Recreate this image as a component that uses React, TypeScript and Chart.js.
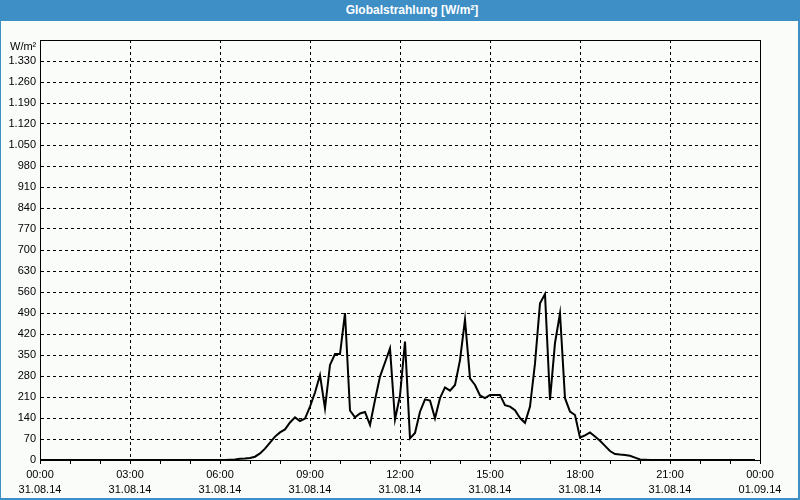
import React, { useEffect, useRef } from 'react';
import { Chart, registerables } from 'chart.js';

Chart.register(...registerables);

const TITLE = 'Globalstrahlung [W/m²]';
const Y_UNIT = 'W/m²';
const DAY_LABEL = '31.08.14';
const NEXT_DAY_LABEL = '01.09.14';
const STEP_MINUTES = 10;

// W/m² every 10 minutes
const values00to06 = [
  0, 0, 0, 0, 0, 0, 0, 0, 0, 0, 0, 0,
  0, 0, 0, 0, 0, 0, 0, 0, 0, 0, 0, 0,
  0, 0, 0, 0, 0, 0, 0, 0, 0, 0, 0, 0,
];
const values06to12 = [
  0, 0, 1, 2, 4, 5,
  7, 11, 22, 38, 58, 78,
  92, 102, 125, 142, 130, 138,
  178, 225, 283, 172, 317, 353,
  353, 490, 165, 142, 155, 160,
  117, 200, 278, 325, 372, 135,
];
const values12to18 = [
  215, 395, 72, 90, 161, 202,
  198, 139, 206, 242, 231, 250,
  333, 468, 272, 250, 215, 206,
  217, 217, 217, 183, 178, 166,
  140, 124, 178, 322, 522, 553,
  200, 390, 489, 206, 161, 150,
];
const values18to24 = [
  75, 82, 92, 78, 64, 47,
  30, 20, 18, 17, 14, 8,
  2, 1, 0, 0, 0, 0,
  0, 0, 0, 0, 0, 0,
  0, 0, 0, 0, 0, 0,
  0, 0, 0, 0, 0, 0,
];

const radiation = [...values00to06, ...values06to12, ...values12to18, ...values18to24];

const Y_MAX = 1400;
const Y_STEP = 70;
const X_LABEL_EVERY = 3;

const FONT = '"Liberation Sans", Arial, sans-serif';
const BLUE = '#3d8fc6';
const BG = '#fafcfa';

function formatThousands(v: number): string {
  const s = Math.round(v).toString();
  return s.replace(/\B(?=(\d{3})+(?!\d))/g, '.');
}

function hourLabel(h: number): string[] {
  const hh = h % 24;
  const t = (hh < 10 ? '0' : '') + hh + ':00';
  return [t, h >= 24 ? NEXT_DAY_LABEL : DAY_LABEL];
}

const al = (v: number) => Math.round(v - 0.5) + 0.5;

const framePlugin = {
  id: 'frameAndUnit',
  afterDraw(chart: any) {
    const { ctx, chartArea: a } = chart;
    ctx.save();
    ctx.strokeStyle = '#000';
    ctx.lineWidth = 1;
    ctx.setLineDash([]);
    const l = al(a.left), t = al(a.top), r = al(a.right), b = al(a.bottom);
    ctx.strokeRect(l, t, r - l, b - t);
    ctx.fillStyle = '#000';
    ctx.font = '11px ' + FONT;
    ctx.textAlign = 'left';
    ctx.textBaseline = 'alphabetic';
    ctx.fillText(Y_UNIT, 10, a.top + 10);
    ctx.restore();
  },
};

export default function App() {
  const canvasRef = useRef<HTMLCanvasElement | null>(null);

  useEffect(() => {
    document.body.style.margin = '0';
    const canvas = canvasRef.current;
    if (!canvas) return;
    const points = radiation.map((v, i) => ({ x: (i * STEP_MINUTES) / 60, y: v }));
    const chart = new Chart(canvas, {
      type: 'line',
      data: {
        datasets: [
          {
            data: points,
            borderColor: '#000',
            borderWidth: 2,
            pointRadius: 0,
            tension: 0,
            fill: false,
          },
        ],
      },
      options: {
        animation: false,
        responsive: false,
        maintainAspectRatio: false,
        layout: { padding: { left: 0, top: 40, right: 40, bottom: 0 } },
        plugins: {
          legend: { display: false },
          title: { display: false },
          tooltip: { enabled: false },
        },
        scales: {
          x: {
            type: 'linear',
            min: 0,
            max: 24,
            afterFit: (s: any) => {
              s.height = 40;
            },
            ticks: {
              stepSize: 1,
              autoSkip: false,
              maxRotation: 0,
              minRotation: 0,
              padding: 3,
              color: '#000',
              font: { family: FONT, size: 11, lineHeight: 15 / 11 },
              callback: (v: any) => {
                const n = Number(v);
                return n % X_LABEL_EVERY === 0 ? hourLabel(n) : '';
              },
            },
            grid: {
              drawTicks: true,
              tickLength: 4,
              tickColor: '#000',
              lineWidth: 1,
              color: (ctx: any) => {
                const v = ctx.tick ? ctx.tick.value : 0;
                return v % X_LABEL_EVERY === 0 ? '#000' : 'rgba(0,0,0,0)';
              },
            },
            border: { display: true, color: '#000', width: 1, dash: [3, 3] },
          },
          y: {
            type: 'linear',
            min: 0,
            max: Y_MAX,
            afterFit: (s: any) => {
              s.width = 40;
            },
            ticks: {
              stepSize: Y_STEP,
              autoSkip: false,
              padding: 4,
              color: '#000',
              font: { family: FONT, size: 11 },
              callback: (v: any) => {
                const n = Number(v);
                return n >= Y_MAX ? '' : formatThousands(n);
              },
            },
            grid: {
              drawTicks: false,
              color: '#000',
              lineWidth: 1,
            },
            border: { display: true, color: '#000', width: 1, dash: [3, 3] },
          },
        },
      },
      plugins: [framePlugin],
    });
    return () => chart.destroy();
  }, []);

  return (
    <div
      style={{
        position: 'fixed',
        left: 0,
        top: 0,
        width: 800,
        height: 500,
        background: BG,
        overflow: 'hidden',
      }}
    >
      <div
        style={{
          position: 'absolute',
          left: 0,
          top: 0,
          width: 800,
          height: 21,
          background: BLUE,
          color: '#fff',
          fontFamily: FONT,
          fontWeight: 'bold',
          fontSize: 12,
          lineHeight: '21px',
          textAlign: 'center',
          paddingLeft: 24,
          boxSizing: 'border-box',
        }}
      >
        {TITLE}
      </div>
      <div style={{ position: 'absolute', left: 0, top: 21, width: 1, height: 479, background: BLUE }} />
      <div style={{ position: 'absolute', left: 798, top: 21, width: 2, height: 479, background: BLUE }} />
      <div style={{ position: 'absolute', left: 0, top: 498, width: 800, height: 2, background: BLUE }} />
      <canvas
        ref={canvasRef}
        width={800}
        height={500}
        style={{ position: 'absolute', left: 0, top: 0, width: 800, height: 500 }}
      />
    </div>
  );
}
